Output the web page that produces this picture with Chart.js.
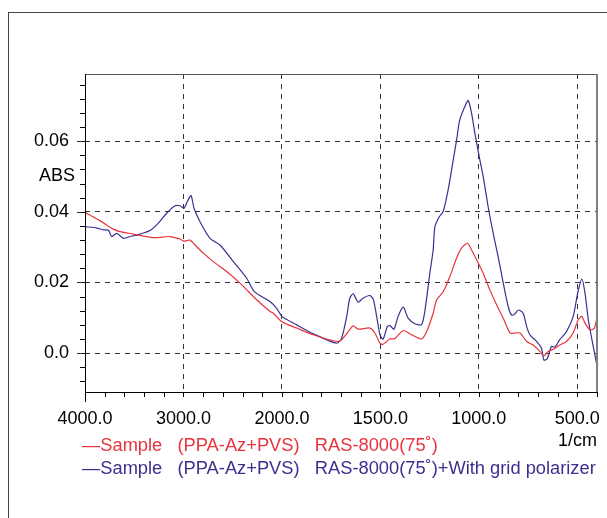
<!DOCTYPE html>
<html>
<head>
<meta charset="utf-8">
<script src="https://cdn.jsdelivr.net/npm/chart.js@4/dist/chart.umd.min.js"></script>
<style>
html,body{margin:0;padding:0;background:#fff;}
canvas{display:block;}
</style>
</head>
<body>
<canvas id="c" width="607" height="518"></canvas>
<script>
// ---- data (wavenumber in 1/cm, absorbance) ----
const redWn = [4000,3848,3712,3645,3509,3306,3137,3035,2994,2934,2883,2798,2697,2561,2426,2256,2121,2088,2000,1925,1841,1722,1697,1663,1638,1613,1553,1528,1502,1486,1452,1427,1384,1350,1291,1265,1232,1215,1181,1147,1113,1088,1058,1037,1003,978,944,910,876,842,817,791,757,724,690,670,648,622,589,555,521,496,477,461,436,419,410,401];
const redAbs = [0.0398,0.0375,0.0351,0.0344,0.0337,0.0327,0.0330,0.0323,0.0317,0.0320,0.0306,0.0283,0.0259,0.0231,0.0198,0.0151,0.0118,0.0113,0.0089,0.0071,0.0052,0.0033,0.0038,0.0061,0.0077,0.0068,0.0071,0.0057,0.0028,0.0025,0.0040,0.0041,0.0064,0.0055,0.0040,0.0061,0.0113,0.0150,0.0174,0.0217,0.0269,0.0297,0.0311,0.0292,0.0255,0.0226,0.0179,0.0137,0.0099,0.0057,0.0057,0.0057,0.0033,0.0023,0.0005,-0.0008,0.0005,0.0011,0.0023,0.0033,0.0057,0.0094,0.0104,0.0085,0.0066,0.0068,0.0075,0.0099];

const blueWn = [4000,3881,3814,3760,3729,3678,3611,3543,3441,3340,3255,3170,3086,3035,2994,2961,2923,2893,2832,2730,2629,2494,2358,2280,2121,2054,2000,1925,1841,1722,1697,1671,1655,1638,1613,1587,1553,1536,1519,1502,1486,1465,1452,1431,1410,1384,1359,1325,1291,1274,1249,1232,1223,1201,1181,1156,1130,1113,1097,1071,1054,1037,1020,995,978,953,927,902,876,851,834,817,800,775,757,741,707,682,670,653,631,614,589,555,521,498,477,461,444,427,401];
const blueAbs = [0.0358,0.0354,0.0349,0.0347,0.0330,0.0339,0.0325,0.0330,0.0337,0.0347,0.0368,0.0396,0.0417,0.0417,0.0410,0.0429,0.0446,0.0410,0.0372,0.0325,0.0306,0.0259,0.0212,0.0174,0.0146,0.0127,0.0104,0.0080,0.0055,0.0028,0.0042,0.0104,0.0156,0.0168,0.0144,0.0156,0.0163,0.0152,0.0104,0.0052,0.0040,0.0075,0.0078,0.0068,0.0104,0.0130,0.0099,0.0083,0.0081,0.0120,0.0226,0.0292,0.0358,0.0386,0.0401,0.0462,0.0547,0.0603,0.0660,0.0698,0.0715,0.0679,0.0622,0.0547,0.0500,0.0415,0.0339,0.0273,0.0198,0.0132,0.0108,0.0111,0.0122,0.0113,0.0075,0.0052,0.0033,0.0014,-0.0019,-0.0016,0.0019,0.0017,0.0038,0.0061,0.0104,0.0170,0.0210,0.0170,0.0094,0.0042,-0.0033];

const xTickWn = [4000,3000,2000,1500,1000,500];
const yTickVals = [0.0,0.02,0.04,0.06];
const yTickLabels = ['0.0','0.02','0.04','0.06'];
const legendLabels = ['\u2014Sample   (PPA-Az+PVS)   RAS-8000(75\u02DA)','\u2014Sample   (PPA-Az+PVS)   RAS-8000(75\u02DA)+With grid polarizer'];
const seriesColors = ['#e8343e','#3d2f8f'];

// axis is compressed 2x above 2000 1/cm
const toP = w => w <= 2000 ? w : 2000 + (w - 2000) / 2;
const fromP = p => p <= 2000 ? p : 2000 + 2 * (p - 2000);

const FONT = '"Liberation Sans", Arial, sans-serif';

const decor = {
  id: 'decor',
  afterDraw(chart) {
    const {ctx, chartArea: a, scales: {x, y}} = chart;
    ctx.save();
    const line = (x1, y1, x2, y2) => { ctx.beginPath(); ctx.moveTo(x1, y1); ctx.lineTo(x2, y2); ctx.stroke(); };
    // outer frame
    ctx.strokeStyle = '#444'; ctx.lineWidth = 1;
    ctx.strokeRect(8.5, 12.5, 700, 600);
    // top + right frame of the plot
    ctx.strokeStyle = '#555';
    line(a.left, a.top + 0.5, a.right, a.top + 0.5);
    ctx.strokeStyle = '#808080'; ctx.lineWidth = 2;
    line(a.right, a.top, a.right, a.bottom);
    // axis lines
    ctx.strokeStyle = '#000'; ctx.lineWidth = 1;
    line(a.left + 0.5, a.top, a.left + 0.5, a.bottom + 10);
    line(a.left, a.bottom + 0.5, a.right, a.bottom + 0.5);
    // minor + major ticks x
    for (let p = 400; p <= 3000; p += 100) {
      const px = Math.round(x.getPixelForValue(p)) + 0.5;
      line(px, a.bottom, px, a.bottom + 5);
    }
    // ticks y
    for (let i = -2; i <= 19; i++) {
      const v = i * 0.004;
      const py = Math.round(y.getPixelForValue(v)) + 0.5;
      if (py < a.top || py > a.bottom) continue;
      line(a.left - 5, py, a.left, py);
    }
    ctx.strokeStyle = '#333';
    yTickVals.forEach(v => {
      const py = Math.round(y.getPixelForValue(v)) + 0.5;
      line(a.left - 8, py, a.left - 3, py);
    });
    // texts
    ctx.font = '18px ' + FONT;
    ctx.fillStyle = '#000';
    ctx.textAlign = 'right'; ctx.textBaseline = 'middle';
    ctx.fillText('ABS', a.left - 10, y.getPixelForValue(0.05));
    ctx.fillText('1/cm', a.right, 441);
    ctx.font = '18.3px ' + FONT;
    ctx.textAlign = 'left';
    ctx.fillStyle = seriesColors[0];
    ctx.fillText(legendLabels[0], 82, 446);
    ctx.fillStyle = seriesColors[1];
    ctx.fillText(legendLabels[1], 82, 469);
    ctx.restore();
  }
};

new Chart(document.getElementById('c'), {
  type: 'line',
  data: {
    datasets: [
      { label: 'red', data: redWn.map((w, i) => ({x: toP(w), y: redAbs[i]})), borderColor: seriesColors[0], borderWidth: 1.2, pointRadius: 0, tension: 0.25, fill: false },
      { label: 'blue', data: blueWn.map((w, i) => ({x: toP(w), y: blueAbs[i]})), borderColor: seriesColors[1], borderWidth: 1.2, pointRadius: 0, tension: 0.25, fill: false }
    ]
  },
  options: {
    responsive: false,
    animation: false,
    devicePixelRatio: 1,
    layout: { padding: { left: 0, right: 10, top: 74, bottom: 86 } },
    plugins: { legend: { display: false }, tooltip: { enabled: false } },
    scales: {
      x: {
        type: 'linear', reverse: true, min: 400, max: 3000,
        afterBuildTicks: s => { s.ticks = xTickWn.map(w => ({value: toP(w)})); },
        afterFit: s => { s.height = 40; s.paddingLeft = 0; s.paddingRight = 0; },
        ticks: { autoSkip: false, maxRotation: 0, padding: 16, color: '#000', font: { family: FONT, size: 18 },
          callback: v => fromP(v).toFixed(1) },
        grid: { drawTicks: false, color: c => (c.tick && c.tick.value === 3000) ? 'rgba(0,0,0,0)' : '#333', lineWidth: 1 },
        border: { display: false, dash: [5, 5] }
      },
      y: {
        type: 'linear', min: -0.011, max: 0.079,
        afterBuildTicks: s => { s.ticks = yTickVals.map(v => ({value: v})); },
        afterFit: s => { s.width = 85; s.paddingTop = 0; s.paddingBottom = 0; },
        ticks: { autoSkip: false, padding: 16, color: '#000', font: { family: FONT, size: 18 },
          callback: (v) => { const i = yTickVals.indexOf(v); return i >= 0 ? yTickLabels[i] : ''; } },
        grid: { drawTicks: false, color: '#333', lineWidth: 1 },
        border: { display: false, dash: [5, 5] }
      }
    }
  },
  plugins: [decor]
});
</script>
</body>
</html>
